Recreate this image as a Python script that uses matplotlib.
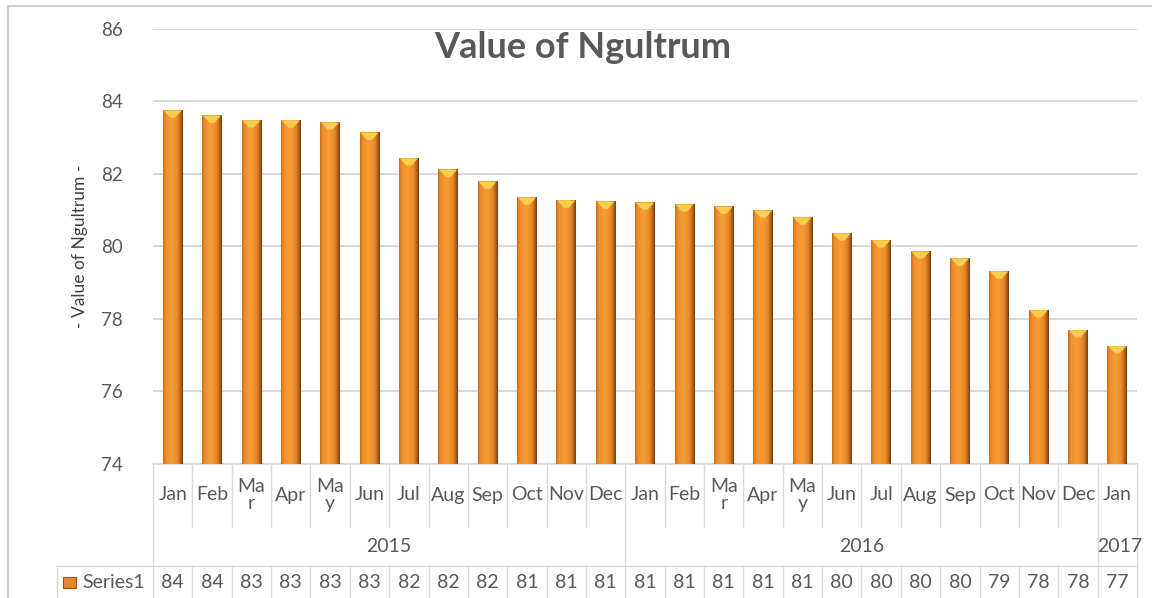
import numpy as np
import matplotlib.pyplot as plt
from matplotlib.colors import LinearSegmentedColormap
from matplotlib.patches import Polygon, Rectangle
from matplotlib.lines import Line2D

plt.rcParams['font.family'] = ['Lato', 'DejaVu Sans']

# Data
months = ['Jan', 'Feb', 'Ma\nr', 'Apr', 'Ma\ny', 'Jun', 'Jul', 'Aug', 'Sep', 'Oct', 'Nov', 'Dec',
          'Jan', 'Feb', 'Ma\nr', 'Apr', 'Ma\ny', 'Jun', 'Jul', 'Aug', 'Sep', 'Oct', 'Nov', 'Dec',
          'Jan']
years = ['2015', '2016', '2017']
year_counts = [12, 12, 1]
values = [83.75, 83.61, 83.48, 83.48, 83.42, 83.14, 82.43, 82.12, 81.79, 81.35, 81.27, 81.24,
          81.21, 81.16, 81.10, 80.99, 80.80, 80.36, 80.17, 79.86, 79.67, 79.31, 78.24, 77.69,
          77.25]
series_name = 'Series1'

W, H = 1152, 598
grid_c = '#D9D9D9'
text_c = '#595959'

bar_cmap = LinearSegmentedColormap.from_list(
    'cyl', [(0.0, '#C96A18'), (0.12, '#EE8C2A'), (0.45, '#F99E36'),
            (0.75, '#E8872A'), (0.9, '#B0601C'), (1.0, '#6E3A0E')])

fig = plt.figure(figsize=(W / 100, H / 100), dpi=100)
ax_l, ax_r, ax_t, ax_b = 153, 1137, 29, 464
ax = fig.add_axes([ax_l / W, 1 - ax_b / H, (ax_r - ax_l) / W, (ax_b - ax_t) / H])

x = np.arange(len(values))
bars = ax.bar(x, values, width=0.5, color='none', edgecolor='none', zorder=3)

y0 = 74
grad = np.linspace(0, 1, 128).reshape(1, -1)
bevel = 0.2
for b in bars:
    bx0, bw, top = b.get_x(), b.get_width(), b.get_height()
    ax.imshow(grad, cmap=bar_cmap, extent=[bx0, bx0 + bw, y0, top], aspect='auto',
              interpolation='bicubic', zorder=3)
    ax.add_patch(Polygon([(bx0 + bw * 0.04, top), (bx0 + bw * 0.96, top),
                          (bx0 + bw * 0.62, top - bevel), (bx0 + bw * 0.38, top - bevel)],
                         closed=True, facecolor='#F8CF4A', edgecolor='none', zorder=4))
ax.set_xlim(-0.5, len(values) - 0.5)
ax.set_ylim(74, 86)

ax.set_yticks(np.arange(74, 87, 2))
ax.tick_params(axis='y', length=0, pad=22, labelsize=13.5, labelcolor=text_c)
ax.set_xticks([])
ax.grid(axis='y', color=grid_c, linewidth=1.5, zorder=0)
for s in ['top', 'right', 'left']:
    ax.spines[s].set_visible(False)
ax.spines['bottom'].set_color(grid_c)
ax.spines['bottom'].set_linewidth(1.2)

ax.set_ylabel('- Value of Ngultrum -', fontsize=12.5, color='#404040', labelpad=9)
fig.text(583 / W, 1 - 48 / H, 'Value of Ngultrum', ha='center', va='center',
         fontsize=26, fontweight='bold', color=text_c)

# Data table under the axis
ah = ax_b - ax_t
def fy(px):
    return (ax_b - px) / ah

tr = ax.get_xaxis_transform()
month_bot, year_bot, fig_bot = fy(527), fy(566), fy(600)
edges = np.arange(len(values) + 1) - 0.5
lkw = dict(color=grid_c, linewidth=1.0, transform=tr, clip_on=False)
for e in edges:
    ax.plot([e, e], [0, month_bot], **lkw)
    ax.plot([e, e], [year_bot, fig_bot], **lkw)
year_edges = np.concatenate([[0], np.cumsum(year_counts)]) - 0.5
for e in year_edges:
    ax.plot([e, e], [month_bot, year_bot], **lkw)
left_px = (57 - ax_l) / (ax_r - ax_l) * len(values) - 0.5
ax.plot([left_px, edges[-1]], [year_bot, year_bot], **lkw)
ax.plot([left_px, left_px], [year_bot, fig_bot], **lkw)

for i, m in enumerate(months):
    ax.text(i, fy(495), m, transform=tr, ha='center', va='center', fontsize=14,
            color=text_c, linespacing=1.0)
    ax.text(i, fy(582), f'{values[i]:.0f}', transform=tr, ha='center', va='center',
            fontsize=14, color=text_c)
for k, yr in enumerate(years):
    cx = (year_edges[k] + year_edges[k + 1]) / 2
    if year_counts[k] == 1:
        cx += 0.05
    ax.text(cx, fy(547), yr, transform=tr, ha='center', va='center', fontsize=14,
            color=text_c)

# legend key
fig.add_artist(Rectangle((63 / W, 1 - 588 / H), 13 / W, 11 / H, transform=fig.transFigure,
                         facecolor='#E8862A', edgecolor='#9A5416', linewidth=0.8))
fig.text(82 / W, 1 - 582 / H, series_name, ha='left', va='center', fontsize=14, color=text_c)

# chart border
fig.add_artist(Line2D([8 / W, 8 / W], [0, 1 - 6 / H], color='#D0D0D0', linewidth=1.5,
                      transform=fig.transFigure))
fig.add_artist(Line2D([8 / W, 1], [1 - 6 / H, 1 - 6 / H], color='#D0D0D0', linewidth=1.5,
                      transform=fig.transFigure))

fig.savefig('out.png', dpi=100)
